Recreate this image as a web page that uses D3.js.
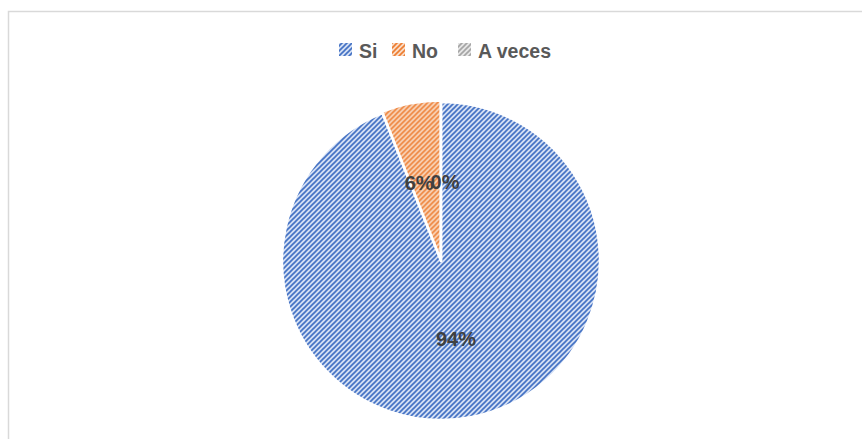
<!DOCTYPE html>
<html><head><meta charset="utf-8">
<script src="https://cdn.jsdelivr.net/npm/d3@7"></script>
<style>html,body{margin:0;padding:0;background:#fff;}svg{display:block;}</style>
</head><body>
<svg id="chart" width="862" height="439"></svg>
<script>
const categories = ["Si", "No", "A veces"];
const values = [94, 6, 0];
const labels = ["94%", "6 %", "0%"];
const fgColors = ["#4472C4", "#ED7D31", "#A5A5A5"];
const bgColors = ["#d3dff4", "#fadcc6", "#e6e6e6"];

const W = 862, H = 439;
const svg = d3.select("#chart");
const defs = svg.append("defs");
categories.forEach((c, i) => {
  const p = defs.append("pattern").attr("id", "pat" + i)
    .attr("patternUnits", "userSpaceOnUse").attr("width", 5).attr("height", 5);
  p.append("rect").attr("width", 5).attr("height", 5).attr("fill", bgColors[i]);
  p.append("path").attr("d", "M-1,6 L6,-1 M-1,1 L1,-1 M4,6 L6,4")
    .attr("stroke", fgColors[i]).attr("stroke-width", 1.6).attr("fill", "none");
});

// chart area border
svg.append("rect").attr("x", 8.5).attr("y", 11.5).attr("width", 900).attr("height", 500)
  .attr("fill", "#fff").attr("stroke", "#d9d9d9").attr("stroke-width", 1.5);

// legend
const legend = svg.append("g").attr("font-family", "Liberation Sans, Arial, sans-serif")
  .attr("font-weight", "bold").attr("font-size", 19.5).attr("fill", "#595959");
const legX = [339, 392, 458];
categories.forEach((c, i) => {
  legend.append("rect").attr("x", legX[i]).attr("y", 43).attr("width", 13).attr("height", 13)
    .attr("fill", "url(#pat" + i + ")");
  legend.append("text").attr("x", legX[i] + 20).attr("y", 57.5).text(c);
});

// pie
const cx = 441, cy = 261, r = 159;
const pie = d3.pie().sort(null).value(d => d)(values);
const arc = d3.arc().innerRadius(0).outerRadius(r);
const explode = [0, 1.5, 0];
const g = svg.append("g").attr("transform", `translate(${cx},${cy})`);
g.selectAll("path").data(pie).join("path")
  .attr("d", arc)
  .attr("transform", (d, i) => {
    const a = (d.startAngle + d.endAngle) / 2;
    return `translate(${Math.sin(a) * explode[i]},${-Math.cos(a) * explode[i]})`;
  })
  .attr("fill", (d, i) => `url(#pat${i})`)
  .attr("stroke", "#fff").attr("stroke-width", 2.5).attr("stroke-linejoin", "round");

// data labels
const labelArc = d3.arc().innerRadius(r * 0.5).outerRadius(r * 0.5);
g.selectAll("text.lbl").data(pie).join("text").attr("class", "lbl")
  .attr("transform", (d, i) => {
    let p = labelArc.centroid(d);
    if (i === 1) p = [p[0] - 7, p[1]];
    if (i === 2) p = [4, p[1] - 0];
    return `translate(${p[0]},${p[1]})`;
  })
  .attr("text-anchor", "middle")
  .attr("dy", "0.35em")
  .attr("font-family", "Liberation Sans, Arial, sans-serif")
  .attr("font-weight", "bold").attr("font-size", 20).attr("fill", "#404040")
  .text((d, i) => labels[i].replace(" ", ""));
</script>
</body></html>
